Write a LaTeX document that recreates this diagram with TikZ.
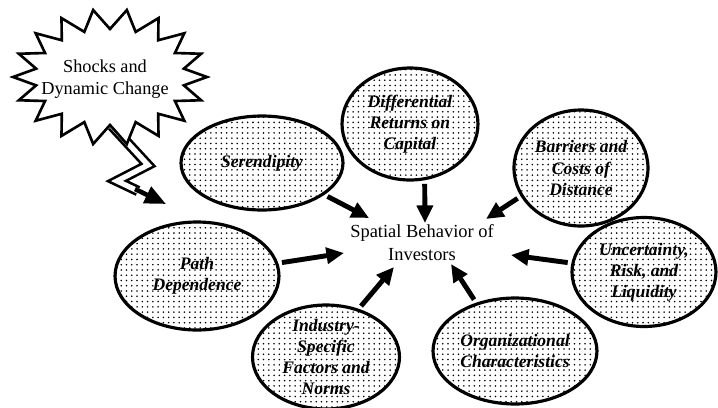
\documentclass[tikz,border=0pt]{standalone}
\usepackage{fontspec}
\setmainfont{Liberation Serif}
\usepackage{tikz}
\usetikzlibrary{arrows.meta,positioning,shapes,patterns}
\tikzset{
  bubble/.style={ellipse,draw=black,line width=1.8pt,pattern=dots,inner sep=0pt,outer sep=0pt},
  bubbletext/.style={font=\fontsize{10}{12}\selectfont\bfseries\itshape,align=center,inner sep=0pt},
  push/.style={line width=2.8pt,-{Triangle[length=10pt,width=9pt]},shorten <=3pt},
}
\begin{document}
\begin{tikzpicture}[x=0.02cm,y=-0.02cm,>=Latex]
      \useasboundingbox (0,0) rectangle (718,407);
      % lightning tail of the shock
      \draw[line width=1.5pt,double=white,double distance=3pt,line join=miter]
        (112,126) -- (148,165) -- (117,181) -- (138,191);
      \draw[line width=2.6pt,-{Triangle[length=12pt,width=10pt]}] (135,189) -- (166,204);
      % shock burst
      \draw[line width=1.5pt,fill=white,line join=miter] (207,77)
        \foreach \i [evaluate=\i as \rx using {mod(\i,2)==0 ? 97 : 75},
                     evaluate=\i as \ry using {mod(\i,2)==0 ? 68 : 48}] in {1,...,35}
          { -- ({110+\rx*cos(\i*10)},{77+\ry*sin(\i*10)}) } -- cycle;
      \node[font=\fontsize{10.4}{12.4}\selectfont,align=center] (shock) at (105,79)
        {Shocks and\\Dynamic Change};
      % factors
      \node[bubble,minimum width=3.24cm,minimum height=1.88cm,
        label={[bubbletext]center:Serendipity}] (seren) at (262,163) {};
      \node[bubble,minimum width=2.72cm,minimum height=2.24cm,
        label={[bubbletext]center:Differential\\Returns on\\Capital}] (diffret) at (410,124) {};
      \node[bubble,minimum width=2.68cm,minimum height=2.32cm,
        label={[bubbletext]center:Barriers and\\Costs of\\Distance}] (barrier) at (581,168) {};
      \node[bubble,minimum width=2.88cm,minimum height=2.18cm,
        label={[bubbletext]center:Uncertainty,\\Risk, and\\Liquidity}] (uncert) at (644,272) {};
      \node[bubble,minimum width=3.28cm,minimum height=2.16cm,
        label={[bubbletext]center:Path\\Dependence}] (pathdep) at (197,276) {};
      \node[bubble,minimum width=2.94cm,minimum height=2.08cm,
        label={[bubbletext]center:Industry-\\Specific\\Factors and\\Norms}] (industry) at (326,357) {};
      \node[bubble,minimum width=3.28cm,minimum height=2.12cm,
        label={[bubbletext]center:Organizational\\Characteristics}] (organiz) at (515,351) {};
      % centre
      \node[font=\fontsize{10.5}{13}\selectfont,align=center] (spatial) at (422,243)
        {Spatial Behavior of\\Investors};
      % arrow tips
      \coordinate (inSeren) at (369,218);
      \coordinate (inDiff) at (425,223);
      \coordinate (inBarr) at (486,219);
      \coordinate (inUnc) at (511,255);
      \coordinate (inPath) at (344,253);
      \coordinate (inInd) at (394,267);
      \coordinate (inOrg) at (451,264);
      \draw[push] (seren.-27) -- (inSeren);
      \draw[push] (diffret.-75) -- (inDiff);
      \draw[push] (barrier.205) -- (inBarr);
      \draw[push] (uncert.173) -- (inUnc);
      \draw[push] (pathdep.9) -- (inPath);
      \draw[push] (industry.56) -- (inInd);
      \draw[push] (organiz.129) -- (inOrg);
    \end{tikzpicture}
\end{document}
